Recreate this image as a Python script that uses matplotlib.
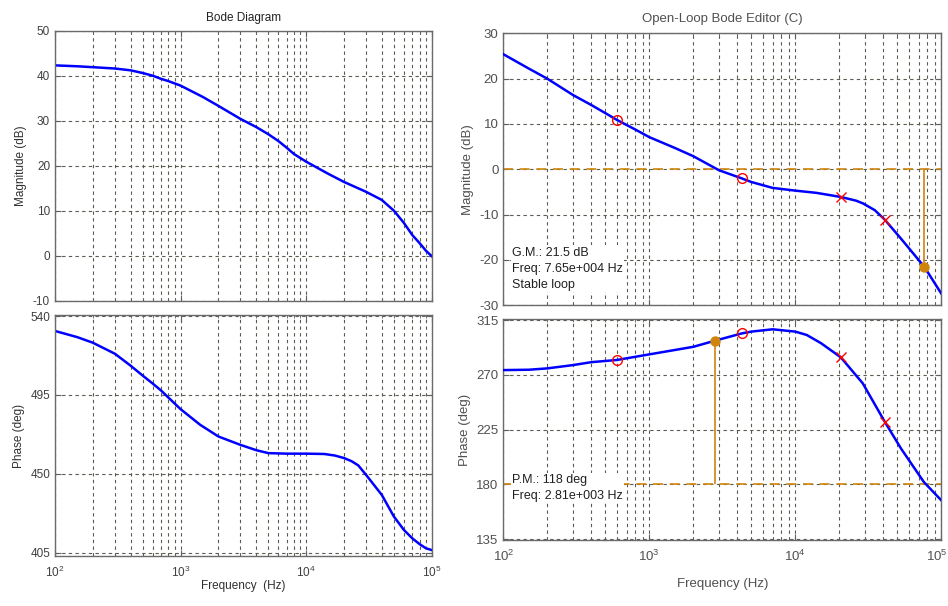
import matplotlib
matplotlib.use('Agg')
import matplotlib.pyplot as plt
from matplotlib.ticker import LogLocator, NullFormatter, FixedLocator, FixedFormatter

plt.rcParams['font.family'] = ['Liberation Sans', 'DejaVu Sans']
plt.rcParams['mathtext.default'] = 'regular'
plt.rcParams['axes.unicode_minus'] = False

# ---- left: closed-loop Bode diagram ----
lf_mag = [100, 150, 200, 300, 400, 500, 600, 700, 800, 1000, 1500, 2000, 3000, 4000, 5000,
          6000, 7000, 8000, 10000, 15000, 20000, 30000, 40000, 50000, 60000, 70000, 80000,
          90000, 100000]
mag_left = [42.3, 42.1, 41.9, 41.6, 41.2, 40.6, 40.0, 39.3, 38.8, 37.8, 35.3, 33.3, 30.4, 28.6,
            27.0, 25.5, 24.0, 22.6, 20.9, 18.2, 16.4, 14.2, 12.4, 10.0, 7.3, 4.6, 2.8, 1.1, -0.1]

lf_ph = [100, 150, 200, 300, 400, 500, 600, 700, 800, 1000, 1430, 2000, 3000, 4000, 5000,
         7000, 10000, 14000, 17000, 20000, 23000, 26000, 30000, 40000, 50000, 60000, 70000,
         80000, 90000, 100000]
ph_left = [531.5, 528.0, 524.8, 518.5, 511.7, 506.0, 501.5, 497.5, 493.5, 486.9, 478.0, 471.3,
           466.5, 463.5, 461.8, 461.5, 461.5, 461.3, 460.4, 459.0, 457.2, 454.8, 449.4, 438.0,
           425.6, 418.0, 413.2, 409.9, 407.5, 406.5]

# ---- right: open-loop Bode editor ----
rf_mag = [100, 150, 200, 300, 400, 500, 600, 800, 1000, 1500, 2000, 3000, 4300, 5000,
          7000, 10000, 14000, 20500, 26000, 29000, 35000, 41000, 53000, 76500, 100000]
mag_right = [25.4, 22.2, 20.0, 16.4, 14.2, 12.4, 10.9, 8.8, 7.1, 4.7, 2.9, -0.2, -2.0,
             -2.8, -4.1, -4.7, -5.2, -6.1, -6.9, -7.5, -9.0, -11.1, -15.3, -21.5, -27.4]

rf_ph = [100, 150, 200, 300, 400, 600, 1000, 2000, 2810, 4300, 5000, 7000, 10000, 12000,
         15000, 20500, 29000, 41000, 53000, 76000, 100000]
ph_right = [273.9, 274.2, 275.3, 278.0, 280.4, 282.2, 286.8, 293.0, 298.0, 304.0, 305.5,
            307.4, 305.5, 302.7, 296.0, 284.4, 263.0, 231.5, 209.5, 182.0, 167.0]

# compensator zeros (o) and poles (x)
zero_f = [600, 4300]
zero_mag = [10.9, -2.0]
zero_ph = [282.2, 304.0]
pole_f = [20500, 41000]
pole_mag = [-6.1, -11.1]
pole_ph = [284.4, 231.5]

gm_freq, gm_db = 76500, -21.5
pm_freq, pm_ph = 2810, 298.0

decades = [100, 1000, 10000, 100000]
decade_labels_right = ['$10^{2}$', '$10^{3}$', '$10^{4}$', '$10^{5}$']

ORANGE = '#CF850C'
GRID = '#5a5a50'


def style(ax, fs, labcol):
    ax.set_xscale('log')
    ax.set_xlim(100, 100000)
    ax.xaxis.set_major_locator(LogLocator(base=10, numticks=10))
    ax.xaxis.set_minor_locator(LogLocator(base=10, subs=range(2, 10), numticks=20))
    ax.xaxis.set_minor_formatter(NullFormatter())
    ax.grid(True, which='major', axis='both', color=GRID, linestyle=(0, (3, 3)), linewidth=0.8)
    ax.grid(True, which='minor', axis='x', color=GRID, linestyle=(0, (3, 3)), linewidth=0.8)
    ax.tick_params(which='both', direction='in', labelsize=fs, labelcolor=labcol,
                   color='#606060', top=True, right=True)
    ax.tick_params(which='major', length=4)
    ax.tick_params(which='minor', length=2)
    for s in ax.spines.values():
        s.set_color('#6a6a6a')
        s.set_linewidth(1.0)


fig = plt.figure(figsize=(9.48, 6.06), dpi=100)

ax1 = fig.add_axes([0.0580, 0.5038, 0.3974, 0.4455])
ax2 = fig.add_axes([0.0580, 0.0822, 0.3974, 0.3977])
ax3 = fig.add_axes([0.5309, 0.4962, 0.4620, 0.4488])
ax4 = fig.add_axes([0.5309, 0.1081, 0.4620, 0.3658])

for ax in (ax1, ax2):
    style(ax, 8.5, '#404040')
for ax in (ax3, ax4):
    style(ax, 9.5, '#505050')

# left magnitude
ax1.plot(lf_mag, mag_left, color='#0000ff', linewidth=1.8)
ax1.set_ylim(-10, 50)
ax1.yaxis.set_major_locator(FixedLocator(range(-10, 51, 10)))
ax1.tick_params(labelbottom=False)
ax1.set_ylabel('Magnitude (dB)', fontsize=8.5, color='#303030')
ax1.set_title('Bode Diagram', fontsize=8.5, color='#202020', pad=7)

# left phase
ax2.plot(lf_ph, ph_left, color='#0000ff', linewidth=1.8)
ax2.set_ylim(403, 540.5)
ax2.yaxis.set_major_locator(FixedLocator([405, 450, 495, 540]))
ax2.set_ylabel('Phase (deg)', fontsize=8.5, color='#303030')
ax2.set_xlabel('Frequency  (Hz)', fontsize=8.5, color='#303030', labelpad=0)
ax2.tick_params(axis='x', pad=6)

# right magnitude
ax3.plot(rf_mag, mag_right, color='#0000ff', linewidth=1.8, zorder=3)
ax3.axhline(0, color=ORANGE, linestyle=(0, (6, 4)), linewidth=1.2, zorder=2)
ax3.vlines(gm_freq, gm_db, 0, color=ORANGE, linewidth=1.2, zorder=2)
ax3.plot(gm_freq, gm_db, 'o', color=ORANGE, markersize=6.5, zorder=4)
ax3.plot(zero_f, zero_mag, 'o', mfc='none', mec='red', markersize=7, zorder=4)
ax3.plot(pole_f, pole_mag, 'x', color='red', markersize=7, zorder=4)
ax3.set_ylim(-30, 30)
ax3.yaxis.set_major_locator(FixedLocator(range(-30, 31, 10)))
ax3.tick_params(labelbottom=False)
ax3.set_ylabel('Magnitude (dB)', fontsize=9.5, color='#505050')
ax3.set_title('Open-Loop Bode Editor (C)', fontsize=9.5, color='#505050', pad=8)
ax3.text(0.02, 0.215, 'G.M.: 21.5 dB\nFreq: 7.65e+004 Hz\nStable loop', transform=ax3.transAxes,
         fontsize=9, color='#202020', va='top', ha='left', linespacing=1.45,
         bbox=dict(facecolor='white', edgecolor='none', pad=1))

# right phase
ax4.plot(rf_ph, ph_right, color='#0000ff', linewidth=1.8, zorder=3)
ax4.axhline(180, color=ORANGE, linestyle=(0, (6, 4)), linewidth=1.2, zorder=2)
ax4.vlines(pm_freq, 180, pm_ph, color=ORANGE, linewidth=1.2, zorder=2)
ax4.plot(pm_freq, pm_ph, 'o', color=ORANGE, markersize=6.5, zorder=4)
ax4.plot(zero_f, zero_ph, 'o', mfc='none', mec='red', markersize=7, zorder=4)
ax4.plot(pole_f, pole_ph, 'x', color='red', markersize=7, zorder=4)
ax4.set_ylim(134, 316)
ax4.yaxis.set_major_locator(FixedLocator([135, 180, 225, 270, 315]))
ax4.xaxis.set_major_locator(FixedLocator(decades))
# last decade label is drawn separately, right-aligned, so it stays inside the figure
ax4.xaxis.set_major_formatter(FixedFormatter(decade_labels_right[:-1] + ['']))
ax4.annotate(decade_labels_right[-1], xy=(decades[-1], 0), xycoords=('data', 'axes fraction'),
             xytext=(4.5, -6), textcoords='offset points', ha='right', va='top',
             fontsize=9.5, color='#505050')
ax4.set_ylabel('Phase (deg)', fontsize=9.5, color='#505050')
ax4.set_xlabel('Frequency (Hz)', fontsize=9.5, color='#505050', labelpad=10)
ax4.tick_params(axis='x', pad=6)
ax4.text(0.02, 0.30, 'P.M.: 118 deg\nFreq: 2.81e+003 Hz', transform=ax4.transAxes,
         fontsize=9, color='#202020', va='top', ha='left', linespacing=1.45,
         bbox=dict(facecolor='white', edgecolor='none', pad=1))

fig.savefig('out.png', dpi=100)
